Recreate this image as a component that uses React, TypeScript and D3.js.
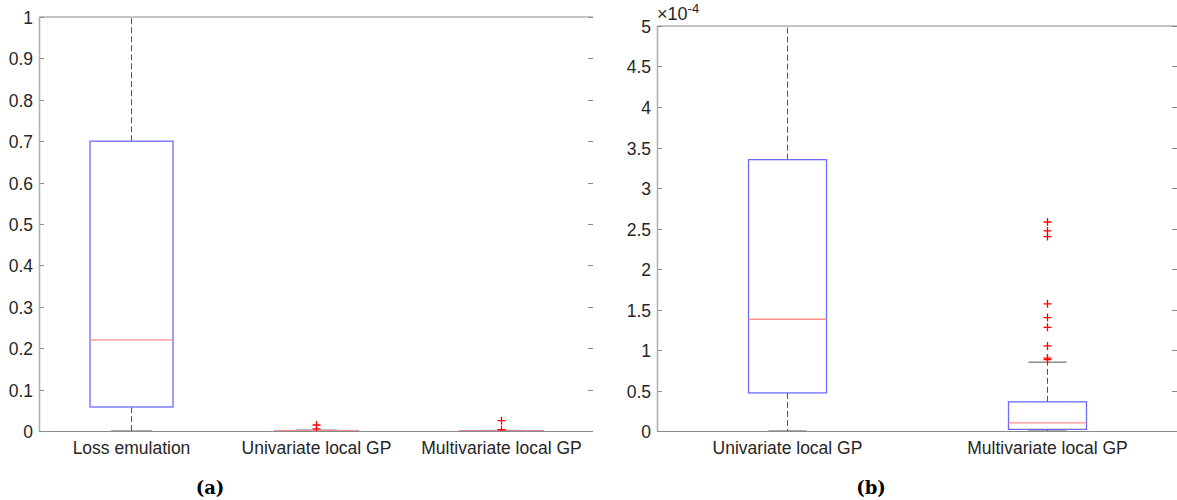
import React, { useEffect, useRef } from "react";
import * as d3 from "d3";

// Panel (a)
const catsA = ["Loss emulation", "Univariate local GP", "Multivariate local GP"];
const loA = [0, 0, 0];
const q1A = [0.058, 0, 0];
const medA = [0.22, 0.0005, 0.0003];
const q3A = [0.7, 0.001, 0.0008];
const hiA = [1.05, 0.002, 0.0015];
const outA = [[], [0.005, 0.0145], [0.003, 0.025]];
const ticksA = [0, 0.1, 0.2, 0.3, 0.4, 0.5, 0.6, 0.7, 0.8, 0.9, 1];

// Panel (b), values in units of 1e-4
const catsB = ["Univariate local GP", "Multivariate local GP"];
const loB = [0, 0];
const q1B = [0.47, 0.02];
const medB = [1.38, 0.1];
const q3B = [3.35, 0.36];
const hiB = [5.2, 0.85];
const outB = [[], [2.58, 2.47, 2.4, 1.57, 1.4, 1.28, 1.05, 0.9, 0.88]];
const ticksB = [0, 0.5, 1, 1.5, 2, 2.5, 3, 3.5, 4, 4.5, 5];

const FONT = "'Liberation Sans', Arial, Helvetica, sans-serif";
const FS = 17.5;

function drawPanel(
  g: d3.Selection<SVGGElement, unknown, null, undefined>,
  id: string,
  x0: number, x1: number, y0: number, y1: number, ymax: number,
  cats: string[], lo: number[], q1: number[], med: number[], q3: number[], hi: number[], outs: number[][],
  ticks: number[], boxW: number, capW: number
) {
  const x = d3.scaleLinear().domain([0.5, cats.length + 0.5]).range([x0, x1]);
  const y = d3.scaleLinear().domain([0, ymax]).range([y1, y0]);
  const axisCol = "#8a8a8a";

  g.append("clipPath").attr("id", id).append("rect")
    .attr("x", x0).attr("y", y0).attr("width", x1 - x0).attr("height", y1 - y0 + 1);

  g.append("line").attr("x1", x0).attr("x2", x1).attr("y1", y0).attr("y2", y0).attr("stroke", axisCol).attr("stroke-width", 1.2);
  ticks.forEach((t) => {
    const yy = Math.round(y(t)) + 0.5;
    g.append("line").attr("x1", x0).attr("x2", x0 + 5).attr("y1", yy).attr("y2", yy).attr("stroke", axisCol);
    g.append("line").attr("x1", x1 - 5).attr("x2", x1).attr("y1", yy).attr("y2", yy).attr("stroke", axisCol);
    g.append("text").attr("x", x0 - 6).attr("y", yy).attr("dy", "0.36em").attr("text-anchor", "end")
      .attr("font-family", FONT).attr("font-size", FS).attr("fill", "#262626").text(String(t));
  });

  const pg = g.append("g").attr("clip-path", `url(#${id})`);
  cats.forEach((c, i) => {
    const cx = Math.round(x(i + 1)) + 0.5;
    pg.append("line").attr("x1", cx).attr("x2", cx).attr("y1", y(q3[i])).attr("y2", y(hi[i]))
      .attr("stroke", "#555").attr("stroke-dasharray", "6,3").attr("stroke-width", 1);
    pg.append("line").attr("x1", cx).attr("x2", cx).attr("y1", y(q1[i])).attr("y2", y(lo[i]))
      .attr("stroke", "#555").attr("stroke-dasharray", "6,3").attr("stroke-width", 1);
    [hi[i], lo[i]].forEach((v) => {
      pg.append("line").attr("x1", cx - capW / 2).attr("x2", cx + capW / 2).attr("y1", y(v)).attr("y2", y(v))
        .attr("stroke", "#555").attr("stroke-width", 1);
    });
    pg.append("rect").attr("x", cx - boxW / 2).attr("y", y(q3[i])).attr("width", boxW)
      .attr("height", Math.max(0.01, y(q1[i]) - y(q3[i]))).attr("fill", "none")
      .attr("stroke", "#6b6bff").attr("stroke-width", 1.3);
    pg.append("line").attr("x1", cx - boxW / 2).attr("x2", cx + boxW / 2).attr("y1", y(med[i])).attr("y2", y(med[i]))
      .attr("stroke", "#ff8c8c").attr("stroke-width", 1.4);
    outs[i].forEach((v) => {
      const yy = y(v);
      pg.append("path").attr("d", `M${cx - 4},${yy}H${cx + 4}M${cx},${yy - 4}V${yy + 4}`)
        .attr("stroke", "#ff0000").attr("stroke-width", 1.3).attr("fill", "none");
    });
    g.append("text").attr("x", cx).attr("y", y1 + 23).attr("text-anchor", "middle")
      .attr("font-family", FONT).attr("font-size", FS).attr("fill", "#262626").text(c);
  });

  g.append("line").attr("x1", x0).attr("x2", x1).attr("y1", y1 + 0.5).attr("y2", y1 + 0.5).attr("stroke", axisCol).attr("stroke-width", 1.2);
  g.append("line").attr("x1", x0 + 0.5).attr("x2", x0 + 0.5).attr("y1", y0).attr("y2", y1).attr("stroke", "#b0b0b0").attr("stroke-width", 1.6);
}

export default function App() {
  const ref = useRef<SVGSVGElement>(null);
  useEffect(() => {
    const svg = d3.select(ref.current!);
    svg.selectAll("*").remove();
    const g = svg.append("g");
    drawPanel(g as any, "clipA", 39, 593, 17, 431, 1, catsA, loA, q1A, medA, q3A, hiA, outA, ticksA, 83, 41);
    drawPanel(g as any, "clipB", 657, 1177, 26, 431, 5, catsB, loB, q1B, medB, q3B, hiB, outB, ticksB, 78, 38);
    const m = g.append("text").attr("x", 657).attr("y", 20).attr("font-family", FONT).attr("font-size", 18).attr("fill", "#262626");
    m.append("tspan").text("×10");
    m.append("tspan").attr("dy", -7).attr("font-size", 13).text("-4");
    g.append("text").attr("x", 210).attr("y", 494).attr("text-anchor", "middle").attr("font-family", "'DejaVu Serif', serif")
      .attr("font-weight", "bold").attr("font-size", 18).attr("fill", "#000").text("(a)");
    g.append("text").attr("x", 871).attr("y", 494).attr("text-anchor", "middle").attr("font-family", "'DejaVu Serif', serif")
      .attr("font-weight", "bold").attr("font-size", 18).attr("fill", "#000").text("(b)");
  }, []);
  return (
    <svg ref={ref} width={1177} height={500} style={{ position: "absolute", left: 0, top: 0, background: "#fff" }} />
  );
}
